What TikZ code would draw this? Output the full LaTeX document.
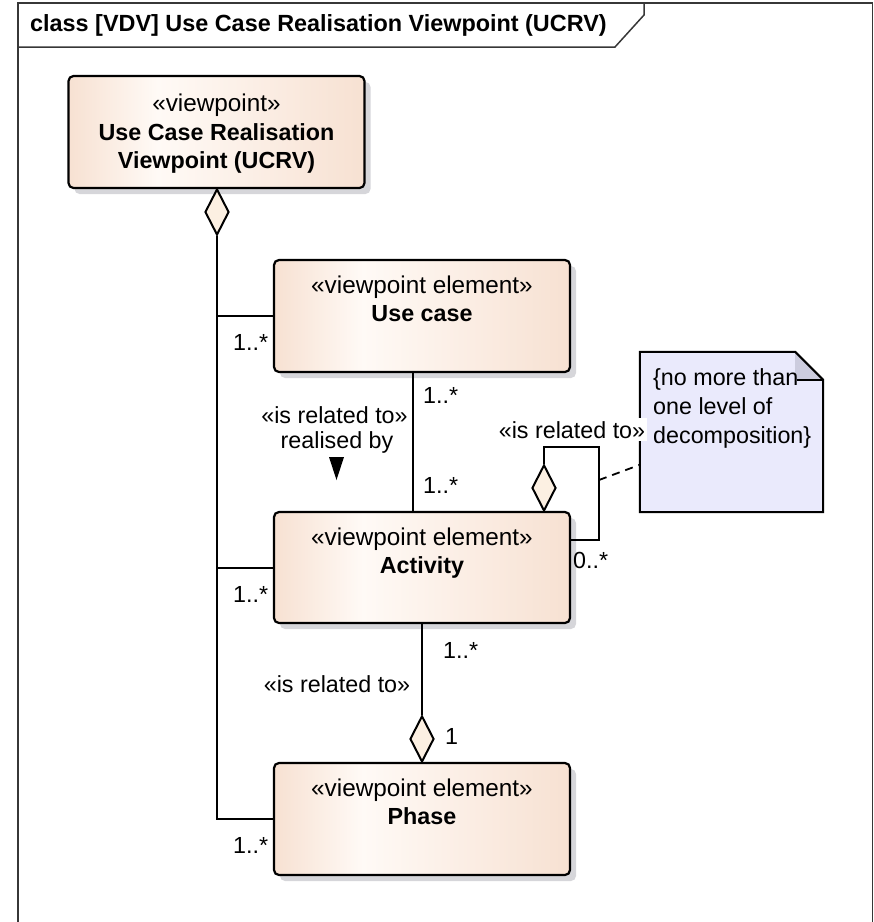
\documentclass[tikz,border=0pt]{standalone}
\usepackage{fontspec}
\setmainfont{Liberation Sans}
\usetikzlibrary{shapes.geometric,shadows,calc}

\definecolor{peach}{RGB}{247,225,210}
\definecolor{peachlight}{RGB}{255,250,246}
\definecolor{diafill}{RGB}{252,240,226}
\definecolor{notefill}{RGB}{234,234,252}
\definecolor{notefold}{RGB}{204,204,222}
\definecolor{shadowgray}{RGB}{214,214,218}
\definecolor{framegray}{RGB}{55,55,55}

% left edge at 25bp, right edge at 75bp of the shading square
\pgfdeclarehorizontalshading{boxshade}{100bp}{color(0bp)=(peach); color(25bp)=(peach); color(40bp)=(peachlight); color(75bp)=(peach); color(100bp)=(peach)}

\tikzset{
  classbox/.style={draw=black, line width=2.2pt, rounded corners=5pt, shading=boxshade,
    minimum width=296pt, minimum height=112pt, inner sep=0pt,
    general shadow={fill=shadowgray, shadow xshift=6pt, shadow yshift=-6pt}},
  aggr/.style={diamond, draw=black, line width=2pt, fill=diafill, inner sep=0pt,
    minimum width=24pt, minimum height=46pt},
  conn/.style={draw=black, line width=2pt},
  txt/.style={anchor=base, inner sep=0pt},
  stereo/.style={anchor=base, inner sep=0pt, font=\fontsize{24.3}{28}\selectfont},
  cname/.style={anchor=base, inner sep=0pt, font=\fontsize{23.3}{28}\selectfont\bfseries},
  lbl/.style={anchor=base west, inner sep=0pt},
  clbl/.style={anchor=base, inner sep=0pt},
}

\begin{document}
\begin{tikzpicture}[x=1pt, y=-1pt, font=\fontsize{23.3}{28}\selectfont]
\useasboundingbox (0,0) rectangle (874,922);

% diagram frame with its name tab
\draw[framegray, line width=1.5pt] (18,926) -- (18,3) -- (872.5,3) -- (872.5,926);
\draw[framegray, line width=1.5pt] (18,47) -- (615,47) -- (644,15) -- (644,3);
\node[lbl, font=\fontsize{23.4}{28}\selectfont\bfseries] (title) at (30,31) {class [VDV] Use Case Realisation Viewpoint (UCRV)};

% classes
\node[classbox] (vp) at (216.5,132) {};
\node[stereo] at ($(vp.north)+(0,37)$) {«viewpoint»};
\node[cname] at ($(vp.north)+(0,66)$) {Use Case Realisation};
\node[cname] at ($(vp.north)+(0,94)$) {Viewpoint (UCRV)};

\node[classbox] (uc) at (422,316) {};
\node[stereo] at ($(uc.north)+(0,35)$) {«viewpoint element»};
\node[cname] at ($(uc.north)+(0,63)$) {Use case};

\node[classbox, minimum height=111pt] (act) at (422,567.5) {};
\node[stereo] at ($(act.north)+(0,35)$) {«viewpoint element»};
\node[cname] at ($(act.north)+(0,63)$) {Activity};

\node[classbox] (ph) at (422,819) {};
\node[stereo] at ($(ph.north)+(0,35)$) {«viewpoint element»};
\node[cname] at ($(ph.north)+(0,63)$) {Phase};

% aggregation diamonds
\node[aggr] (dvp) at (217,212) {};
\node[aggr] (dph) at ($(ph.north)+(0,-23)$) {};
\node[aggr] (dself) at ($(act.north)+(122,-23)$) {};

% viewpoint aggregates its elements
\draw[conn] (dvp.south) |- (ph.west);
\draw[conn] (dvp.south |- uc.west) -- (uc.west);
\draw[conn] (dvp.south |- act.west) -- (act.west);
\node[lbl] at (233,350) {1..*};
\node[lbl] at (233,602) {1..*};
\node[lbl] at (233,853) {1..*};

% use case realised by activity
\draw[conn] ([xshift=-9pt]uc.south) -- ([xshift=-9pt]act.north);
\node[lbl] at (423,403) {1..*};
\node[lbl] at (423,493) {1..*};
\node[clbl] at (334.5,423) {«is related to»};
\node[clbl] at (337,448) {realised by};
\fill[black] (329,457) -- (344,457) -- (336.5,480) -- cycle;

% phase aggregates activities
\draw[conn] (act.south) -- (dph.north);
\node[lbl] at (443,658) {1..*};
\node[clbl] at (337,692) {«is related to»};
\node[lbl] at (445,744) {1};

% activity decomposition (self aggregation)
\coordinate (selfTR) at (599,447);
\coordinate (selfIn) at ($(act.north east)+(0,29)$);
\draw[conn] (dself.north) |- (selfTR) |- (selfIn);
\node[lbl] at (573,568) {0..*};

% constraint note
\node[minimum width=183pt, minimum height=160pt, inner sep=0pt] (note) at (731.5,432) {};
\fill[notefill] (note.north west) -- ($(note.north east)+(-28,0)$) -- ($(note.north east)+(0,28)$)
  -- (note.south east) -- (note.south west) -- cycle;
\fill[notefold] ($(note.north east)+(-28,0)$) -- ($(note.north east)+(0,28)$) -- ($(note.north east)+(-28,28)$) -- cycle;
\draw[black, line width=2pt, line join=miter] (note.north west) -- ($(note.north east)+(-28,0)$) -- ($(note.north east)+(0,28)$)
  -- (note.south east) -- (note.south west) -- cycle;
\draw[black, line width=2pt] ($(note.north east)+(-26,28)$) -- ($(note.north east)+(0,28)$);
\node[lbl] at (653,385) {\{no more than};
\node[lbl] at (653,414) {one level of};
\node[lbl] at (653,443) {decomposition\}};

\coordinate (anchorPt) at (599,480);
\draw[black, line width=1.8pt, dash pattern=on 8pt off 6pt] (anchorPt) -- ($(note.north west)+(0,113)$);

\node[clbl, fill=white, inner xsep=2pt, inner ysep=3pt] at (572,438) {«is related to»};
\end{tikzpicture}
\end{document}
